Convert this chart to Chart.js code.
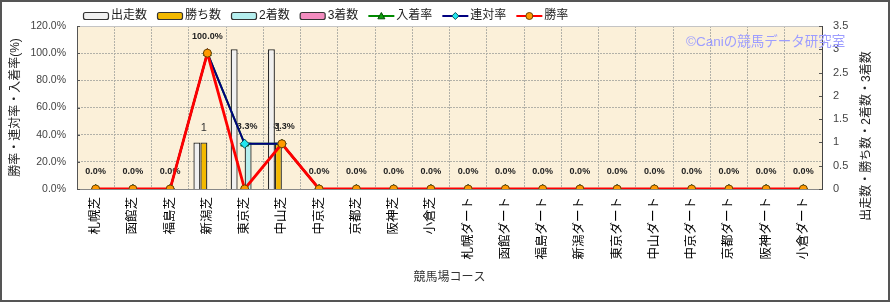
<!DOCTYPE html>
<html>
<head>
<meta charset="utf-8">
<script src="https://cdn.jsdelivr.net/npm/chart.js@4.4.1/dist/chart.umd.min.js"></script>
<style>
  html, body { margin: 0; padding: 0; background: #fff; }
  canvas { display: block; }
</style>
</head>
<body>
<canvas id="raceChart" width="890" height="302"></canvas>
<script>
// 1. DATA
// ------------------------------------------------------------------
const courses = ['札幌芝', '函館芝', '福島芝', '新潟芝', '東京芝', '中山芝', '中京芝', '京都芝', '阪神芝', '小倉芝',
                 '札幌ダート', '函館ダート', '福島ダート', '新潟ダート', '東京ダート', '中山ダート', '中京ダート', '京都ダート', '阪神ダート', '小倉ダート'];

const starts  = [0, 0, 0, 1, 3, 3, 0, 0, 0, 0, 0, 0, 0, 0, 0, 0, 0, 0, 0, 0]; // 出走数
const wins    = [0, 0, 0, 1, 0, 1, 0, 0, 0, 0, 0, 0, 0, 0, 0, 0, 0, 0, 0, 0]; // 勝ち数
const seconds = [0, 0, 0, 0, 1, 0, 0, 0, 0, 0, 0, 0, 0, 0, 0, 0, 0, 0, 0, 0]; // 2着数
const thirds  = [0, 0, 0, 0, 0, 0, 0, 0, 0, 0, 0, 0, 0, 0, 0, 0, 0, 0, 0, 0]; // 3着数

const placeRate  = [0, 0, 0, 100, 33.3, 33.3, 0, 0, 0, 0, 0, 0, 0, 0, 0, 0, 0, 0, 0, 0]; // 入着率
const rentaiRate = [0, 0, 0, 100, 33.3, 33.3, 0, 0, 0, 0, 0, 0, 0, 0, 0, 0, 0, 0, 0, 0]; // 連対率
const winRate    = [0, 0, 0, 100, 0, 33.3, 0, 0, 0, 0, 0, 0, 0, 0, 0, 0, 0, 0, 0, 0];    // 勝率

const rateTicks  = ['0.0%', '20.0%', '40.0%', '60.0%', '80.0%', '100.0%', '120.0%'];
const countTicks = ['0', '0.5', '1', '1.5', '2', '2.5', '3', '3.5'];

// 2. STYLE
// ------------------------------------------------------------------
const FONT = '"Liberation Sans", "Noto Sans CJK JP", sans-serif';
const GRID = '#b2b1a8';
Chart.defaults.font.family = FONT;
Chart.defaults.color = '#333';

// small marker helper (legend only)
function drawMarker(c, style, x, y, r, fill, stroke) {
    c.beginPath();
    if (style === 'triangle') {
        c.moveTo(x, y - r); c.lineTo(x + r, y + r * 0.8); c.lineTo(x - r, y + r * 0.8); c.closePath();
    } else if (style === 'rectRot') {
        c.moveTo(x, y - r); c.lineTo(x + r, y); c.lineTo(x, y + r); c.lineTo(x - r, y); c.closePath();
    } else {
        c.arc(x, y, r, 0, Math.PI * 2);
    }
    c.fillStyle = fill; c.fill();
    c.lineWidth = 1; c.strokeStyle = stroke; c.stroke();
}

// 3. PLUGINS
// ------------------------------------------------------------------
const decorPlugin = {
    id: 'decor',
    beforeDraw(chart) {
        const c = chart.ctx, a = chart.chartArea;
        c.save();
        c.fillStyle = '#fff';
        c.fillRect(0, 0, chart.width, chart.height);
        c.fillStyle = '#fbf0d9';
        c.fillRect(a.left, a.top, a.right - a.left, a.bottom - a.top);
        c.restore();
    },
    beforeDatasetsDraw(chart) {
        const c = chart.ctx, a = chart.chartArea;
        c.save();
        // top edge of plot
        c.strokeStyle = '#c4c4c4'; c.lineWidth = 1;
        c.beginPath(); c.moveTo(a.left, a.top + 0.5); c.lineTo(a.right, a.top + 0.5); c.stroke();

        // inner tick marks on both value axes
        c.strokeStyle = '#555';
        chart.scales.y.ticks.forEach(t => {
            const py = Math.round(chart.scales.y.getPixelForValue(t.value)) + 0.5;
            c.beginPath(); c.moveTo(a.left, py); c.lineTo(a.left + 3, py); c.stroke();
        });
        chart.scales.y1.ticks.forEach(t => {
            const py = Math.round(chart.scales.y1.getPixelForValue(t.value)) + 0.5;
            c.beginPath(); c.moveTo(a.right - 3, py); c.lineTo(a.right, py); c.stroke();
        });

        // value labels (drawn under the marks, as in the original)
        c.textAlign = 'center';
        c.textBaseline = 'middle';
        const placeMeta = chart.getDatasetMeta(4);
        c.font = 'bold 9px ' + FONT;
        c.fillStyle = '#222';
        placeMeta.data.forEach((pt, i) => {
            c.fillText(placeRate[i].toFixed(1) + '%', pt.x, pt.y - 17);
        });
        const winMeta = chart.getDatasetMeta(1);
        c.font = '11px ' + FONT;
        c.fillStyle = '#333';
        winMeta.data.forEach((bar, i) => {
            if (wins[i] > 0) c.fillText(String(wins[i]), bar.x, bar.y - 14);
        });
        c.restore();
    },
    afterDraw(chart) {
        const c = chart.ctx;
        c.save();

        // legend row
        let x = 83;
        const y = 16;
        c.font = '12px ' + FONT;
        c.textBaseline = 'middle';
        c.textAlign = 'left';
        chart.data.datasets.forEach(ds => {
            if (ds.type === 'line') {
                c.strokeStyle = ds.borderColor; c.lineWidth = 2;
                c.beginPath(); c.moveTo(x, y); c.lineTo(x + 26, y); c.stroke();
                drawMarker(c, ds.pointStyle, x + 13, y, 3.5, ds.pointBackgroundColor, ds.pointBorderColor);
            } else {
                c.beginPath();
                c.roundRect(x + 0.5, y - 3.5, 25, 7, 2);
                c.fillStyle = ds.backgroundColor; c.fill();
                c.strokeStyle = '#333'; c.lineWidth = 1.2; c.stroke();
            }
            x += 28;
            c.fillStyle = '#222';
            c.fillText(ds.label, x, y);
            x += c.measureText(ds.label).width + 10;
        });

        // right axis title, reading upward
        c.font = '12px ' + FONT;
        c.fillStyle = '#222';
        c.textAlign = 'center';
        c.translate(867, 136);
        c.rotate(-Math.PI / 2);
        c.fillText('出走数・勝ち数・2着数・3着数', 0, 0);
        c.setTransform(1, 0, 0, 1, 0, 0);

        // watermark
        c.font = '13.5px ' + FONT;
        c.fillStyle = '#9d9dff';
        c.textAlign = 'left';
        c.fillText('©Caniの競馬データ研究室', 686, 42);

        // outer frame
        c.strokeStyle = '#555'; c.lineWidth = 2;
        c.strokeRect(1, 1, chart.width - 2, chart.height - 2);
        c.restore();
    }
};

// 4. CHART
// ------------------------------------------------------------------
const ctx = document.getElementById('raceChart').getContext('2d');

new Chart(ctx, {
    type: 'bar',
    data: {
        labels: courses,
        datasets: [
            { label: '出走数', data: starts,  yAxisID: 'y1', order: 3, backgroundColor: '#f0f0f0', borderColor: '#2a2a2a', borderWidth: 1.3 },
            { label: '勝ち数', data: wins,    yAxisID: 'y1', order: 3, backgroundColor: '#f3b900', borderColor: '#2a2a2a', borderWidth: 1.3 },
            { label: '2着数',  data: seconds, yAxisID: 'y1', order: 3, backgroundColor: '#b4eeee', borderColor: '#2a2a2a', borderWidth: 1.3 },
            { label: '3着数',  data: thirds,  yAxisID: 'y1', order: 3, backgroundColor: '#f28cbf', borderColor: '#2a2a2a', borderWidth: 1.3 },
            { type: 'line', label: '入着率', data: placeRate, yAxisID: 'y', order: 2,
              borderColor: '#008a00', borderWidth: 2, tension: 0,
              pointStyle: 'triangle', pointRadius: 4.5, pointBackgroundColor: '#10a010', pointBorderColor: '#064d06', pointBorderWidth: 1 },
            { type: 'line', label: '連対率', data: rentaiRate, yAxisID: 'y', order: 1,
              borderColor: '#000080', borderWidth: 2, tension: 0,
              pointStyle: 'rectRot', pointRadius: 4.5, pointBackgroundColor: '#22e6ee', pointBorderColor: '#05505a', pointBorderWidth: 1 },
            { type: 'line', label: '勝率', data: winRate, yAxisID: 'y', order: 0,
              borderColor: '#ff0000', borderWidth: 2.8, tension: 0,
              pointStyle: 'circle', pointRadius: 4, pointBackgroundColor: '#ff9a00', pointBorderColor: '#6b4200', pointBorderWidth: 1 }
        ]
    },
    options: {
        responsive: false,
        animation: false,
        layout: { padding: { top: 26, left: 0, right: 0, bottom: 0 } },
        plugins: { legend: { display: false }, tooltip: { enabled: false } },
        datasets: { bar: { categoryPercentage: 0.75, barPercentage: 1.0 } },
        scales: {
            x: {
                grid: { color: GRID, drawTicks: false },
                border: { color: '#888', dash: [2, 1] },
                ticks: { autoSkip: false, minRotation: 90, maxRotation: 90, padding: 8, color: '#000', font: { size: 12.5 } },
                title: { display: true, text: '競馬場コース', color: '#333', font: { size: 12 }, padding: { top: 0, bottom: 17 } },
                afterFit: s => { s.height = 113; }
            },
            y: {
                position: 'left',
                min: 0, max: 120,
                grid: { color: GRID, drawTicks: false },
                border: { color: '#555', dash: [2, 1] },
                ticks: { stepSize: 20, padding: 11, color: '#444', font: { size: 10.5 }, callback: (v, i) => rateTicks[i] },
                title: { display: true, text: '勝率・連対率・入着率(%)', color: '#222', font: { size: 12 }, padding: { top: 8, bottom: 0 } },
                afterFit: s => { s.width = 77; }
            },
            y1: {
                position: 'right',
                min: 0, max: 3.5,
                grid: { display: false, drawTicks: false },
                border: { color: '#444' },
                ticks: { stepSize: 0.5, padding: 11, color: '#444', font: { size: 11 }, callback: (v, i) => countTicks[i] },
                afterFit: s => { s.width = 68; }
            }
        }
    },
    plugins: [decorPlugin]
});
</script>
</body>
</html>
